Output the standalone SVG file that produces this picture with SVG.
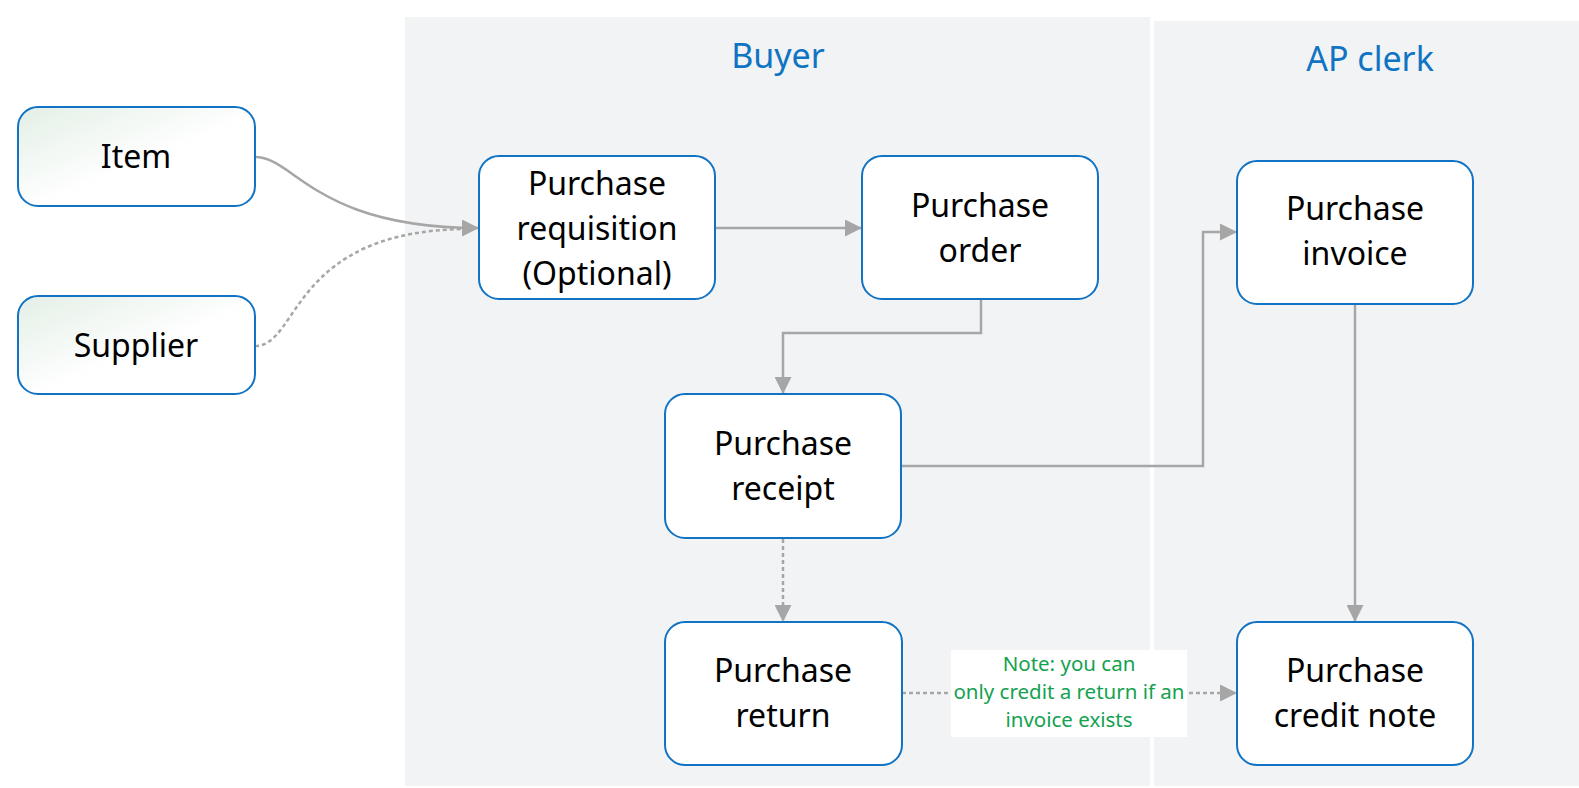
<svg xmlns="http://www.w3.org/2000/svg" width="1579" height="788" viewBox="0 0 1579 788">
<style>
.lane{fill:#f2f3f5}
.title{font-family:"Noto Sans","Open Sans",sans-serif;font-size:34px;fill:#0f74c3;text-anchor:middle}
.box{fill:#ffffff;stroke:#1273c4;stroke-width:2}
.src{fill:url(#g);stroke:#1273c4;stroke-width:2}
.lbl{font-family:"Noto Sans","Open Sans",sans-serif;font-size:32px;fill:#000;text-anchor:middle}
.c{fill:none;stroke:#a6a6a6;stroke-width:2.5}
.d{fill:none;stroke:#a6a6a6;stroke-width:2.5;stroke-dasharray:4 3}
.note{font-family:"Noto Sans","Open Sans",sans-serif;font-size:20.5px;fill:#13a24f;text-anchor:middle}
</style>
<defs>
<linearGradient id="g" x1="0" y1="0" x2="1" y2="1">
<stop offset="0" stop-color="#e3efe6"/>
<stop offset="0.55" stop-color="#ffffff"/>
<stop offset="1" stop-color="#ffffff"/>
</linearGradient>
<marker id="a" markerWidth="17" markerHeight="17" refX="17" refY="8.5" orient="auto" markerUnits="userSpaceOnUse">
<path d="M0,0 L17,8.5 L0,17 Z" fill="#a6a6a6"/>
</marker>
</defs>
<rect width="1579" height="788" fill="#ffffff"/>
<g id="lane-buyer">
<rect class="lane" x="405" y="17" width="745" height="769"/>
<text class="title" x="778" y="68">Buyer</text>
</g>
<g id="lane-apclerk">
<rect class="lane" x="1154" y="21" width="425" height="765"/>
<text class="title" x="1370" y="71">AP clerk</text>
</g>
<g id="connectors">
<path class="c" d="M255,157 C295,157 315,228 479,228" marker-end="url(#a)"/>
<path class="d" d="M255,346 C300,346 290,229 470,229"/>
<path class="c" d="M715,228 L862,228" marker-end="url(#a)"/>
<path class="c" d="M981,300 L981,333 L783,333 L783,394" marker-end="url(#a)"/>
<path class="c" d="M901,466 L1203,466 L1203,232 L1237,232" marker-end="url(#a)"/>
<path class="d" d="M783,539 L783,622" marker-end="url(#a)"/>
<path class="c" d="M1355,304 L1355,622" marker-end="url(#a)"/>
<path class="d" d="M902,693 L1237,693" marker-end="url(#a)"/>
<rect x="951" y="650" width="236" height="87" fill="#ffffff"/>
<text class="note" x="1069" y="671">Note: you can</text>
<text class="note" x="1069" y="699">only credit a return if an</text>
<text class="note" x="1069" y="727">invoice exists</text>
</g>
<g id="item">
<rect class="src" x="18" y="107" width="237" height="99" rx="20"/>
<text class="lbl" x="136" y="168">Item</text>
</g>
<g id="supplier">
<rect class="src" x="18" y="296" width="237" height="98" rx="20"/>
<text class="lbl" x="136" y="357">Supplier</text>
</g>
<g id="requisition">
<rect class="box" x="479" y="156" width="236" height="143" rx="20"/>
<text class="lbl" x="597" y="195">Purchase</text>
<text class="lbl" x="597" y="240">requisition</text>
<text class="lbl" x="597" y="285">(Optional)</text>
</g>
<g id="order">
<rect class="box" x="862" y="156" width="236" height="143" rx="20"/>
<text class="lbl" x="980" y="217">Purchase</text>
<text class="lbl" x="980" y="262">order</text>
</g>
<g id="receipt">
<rect class="box" x="665" y="394" width="236" height="144" rx="20"/>
<text class="lbl" x="783" y="455">Purchase</text>
<text class="lbl" x="783" y="500">receipt</text>
</g>
<g id="return">
<rect class="box" x="665" y="622" width="237" height="143" rx="20"/>
<text class="lbl" x="783" y="682">Purchase</text>
<text class="lbl" x="783" y="727">return</text>
</g>
<g id="invoice">
<rect class="box" x="1237" y="161" width="236" height="143" rx="20"/>
<text class="lbl" x="1355" y="220">Purchase</text>
<text class="lbl" x="1355" y="265">invoice</text>
</g>
<g id="creditnote">
<rect class="box" x="1237" y="622" width="236" height="143" rx="20"/>
<text class="lbl" x="1355" y="682">Purchase</text>
<text class="lbl" x="1355" y="727">credit note</text>
</g>
</svg>
